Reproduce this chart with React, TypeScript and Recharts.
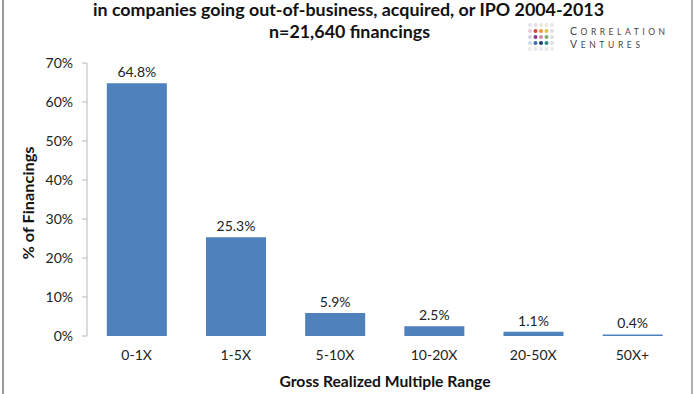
import React from 'react';
import { BarChart, Bar, XAxis, YAxis, LabelList } from 'recharts';

const categories = ['0-1X', '1-5X', '5-10X', '10-20X', '20-50X', '50X+'];
const percentages = [64.8, 25.3, 5.9, 2.5, 1.1, 0.4];
const yTicks = [0, 10, 20, 30, 40, 50, 60, 70];
const boundaryTicks = [0, 1, 2, 3, 4, 5, 6];
const titleLines = ['in companies going out-of-business, acquired, or IPO 2004-2013', 'n=21,640 financings'];
const yAxisTitle = '% of Financings';
const xAxisTitle = 'Gross Realized Multiple Range';
const logoLines = ['CORRELATION', 'VENTURES'];
const logoColors = [
  ['#e6e3ec', '#e8dfe6', '#eee4d8', '#ece8d8', '#e8e8e8'],
  ['#e6c9d6', '#d9463f', '#ef9a3c', '#e3c24e', '#e0e0e0'],
  ['#dccfe2', '#8a3b8f', '#d78aa8', '#7fae6a', '#e0e0e0'],
  ['#cfd8e8', '#3c6fb5', '#1d3c78', '#2e8c86', '#d8e2dc'],
  ['#ececf0', '#e6e6ec', '#e4e8ee', '#e2ebea', '#ececec'],
];

const data = categories.map((c, i) => ({ cat: c, value: percentages[i] }));

const font = 'Lato, "Open Sans", sans-serif';

function LogoWord({ word, x, y, len }: { word: string; x: number; y: number; len: number }) {
  return (
    <text x={x} y={y} textLength={len} lengthAdjust="spacing">
      <tspan fontSize={10.5}>{word.slice(0, 1)}</tspan>
      <tspan fontSize={8.5}>{word.slice(1)}</tspan>
    </text>
  );
}

export default function App() {
  return (
    <div style={{ position: 'absolute', left: 0, top: 0, width: 700, height: 394, background: '#fff', overflow: 'hidden', fontFamily: font }}>
      <div style={{ position: 'absolute', left: 2, top: 0, width: 1.5, height: 394, background: '#9a9a9a' }} />
      <div style={{ position: 'absolute', left: 691, top: 0, width: 1.5, height: 394, background: '#b0b0b0' }} />
      <BarChart width={700} height={394} data={data} margin={{ top: 63, right: 18, bottom: 28, left: 0 }} barCategoryGap="20%">
        <XAxis xAxisId="b" type="number" domain={[0, 6]} ticks={boundaryTicks} tick={false} tickSize={5} height={0}
          axisLine={{ stroke: '#b8b8b8' }} tickLine={{ stroke: '#b8b8b8' }} />
        <XAxis xAxisId="c" dataKey="cat" height={30} axisLine={false} tickLine={false} tickMargin={8}
          tick={{ fontSize: 14, fill: '#222', fontFamily: font }} />
        <YAxis width={87} domain={[0, 70]} ticks={yTicks} tickFormatter={(v: number) => v + '%'} tickSize={5} tickMargin={9}
          axisLine={{ stroke: '#b8b8b8' }} tickLine={{ stroke: '#b8b8b8' }}
          tick={{ fontSize: 14, fill: '#222', fontFamily: font }} />
        <Bar xAxisId="c" dataKey="value" fill="#4f81bd" isAnimationActive={false}>
          <LabelList dataKey="value" position="top" offset={6} formatter={(v: number) => v.toFixed(1) + '%'}
            style={{ fontSize: 14, fill: '#222', fontFamily: font }} />
        </Bar>
      </BarChart>
      <svg style={{ position: 'absolute', left: 0, top: 0, pointerEvents: 'none' }} width={700} height={394}>
        <g fontFamily={font} fontWeight={700} fill="#111" textAnchor="middle">
          <text x={348.5} y={16} fontSize={16.5} textLength={511} lengthAdjust="spacingAndGlyphs">{titleLines[0]}</text>
          <text x={349.5} y={37.5} fontSize={16.5} textLength={161} lengthAdjust="spacingAndGlyphs">{titleLines[1]}</text>
          <text x={385} y={387} fontSize={15} textLength={211} lengthAdjust="spacingAndGlyphs">{xAxisTitle}</text>
          <text x={0} y={0} fontSize={15} textLength={113} lengthAdjust="spacingAndGlyphs"
            transform="translate(34, 203) rotate(-90)">{yAxisTitle}</text>
        </g>
        {logoColors.map((row, r) =>
          row.map((col, c) => <circle key={r + '-' + c} cx={530 + c * 5.5} cy={25 + r * 6} r={2} fill={col} />)
        )}
        <g fontFamily={font} fill="#444">
          <LogoWord word={logoLines[0]} x={570} y={34.5} len={95} />
          <LogoWord word={logoLines[1]} x={570} y={47.5} len={70} />
        </g>
      </svg>
    </div>
  );
}
